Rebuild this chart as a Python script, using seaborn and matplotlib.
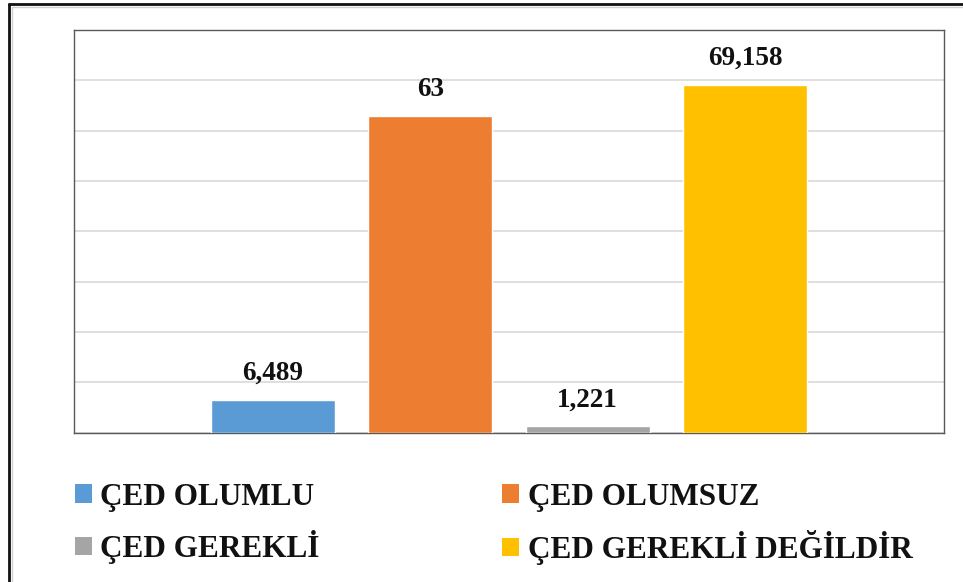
import matplotlib
matplotlib.use("Agg")
import matplotlib.pyplot as plt
from matplotlib.patches import Patch
from matplotlib.lines import Line2D
import seaborn as sns
import pandas as pd

# Share of applications by ÇED decision (%)
categories = ["ÇED OLUMLU", "ÇED OLUMSUZ", "ÇED GEREKLİ", "ÇED GEREKLİ DEĞİLDİR"]
values = [6.489, 63, 1.221, 69.158]
colors = ["#5B9BD5", "#ED7D31", "#A5A5A5", "#FFC000"]
y_max = 80
y_step = 10

sns.set_theme(style="white")
plt.rcParams["font.family"] = ["Liberation Serif", "DejaVu Serif"]
plt.rcParams["text.color"] = "#111111"

df = pd.DataFrame({"karar": categories, "oran": values})

fig = plt.figure(figsize=(9.63, 5.82), dpi=100)
W, H = 963, 582
ax = fig.add_axes([74 / W, (H - 432.5) / H, (943.5 - 74) / W, (432.5 - 30) / H])

sns.barplot(data=df, x="karar", y="oran", hue="karar", palette=colors,
            width=0.787, legend=False, ax=ax, saturation=1, zorder=3)

ax.set_xlim(-1.263, 4.261)
ax.set_ylim(0, y_max)
ax.set_yticks(range(0, y_max + 1, y_step))
ax.yaxis.grid(True, color="#D9D9D9", linewidth=1.2, zorder=0)
ax.set_axisbelow(True)
ax.set_xticks([])
ax.set_yticklabels([])
ax.tick_params(left=False, bottom=False)
ax.set_xlabel("")
ax.set_ylabel("")
for s in ax.spines.values():
    s.set_visible(True)
    s.set_color("#595959")
    s.set_linewidth(1.0)


def fmt(v):
    s = f"{v:.3f}".rstrip("0").rstrip(".")
    return s.replace(".", ",")


for cont in ax.containers:
    ax.bar_label(cont, labels=[fmt(b.get_height()) for b in cont],
                 padding=10, fontsize=19.5, fontweight="bold", color="#111111")

# legend: two columns, filled row by row
order = [0, 2, 1, 3]
handles = [Patch(facecolor=colors[i], edgecolor="none") for i in order]
labels = [categories[i] for i in order]
leg = fig.legend(handles, labels, ncol=2, loc="upper left",
                 bbox_to_anchor=(59 / W, 1 - 467 / H), frameon=False,
                 prop={"family": "Liberation Serif", "weight": "bold", "size": 22.5},
                 handlelength=0.55, handleheight=0.55, handletextpad=0.27,
                 columnspacing=5.84, labelspacing=0.59, borderpad=0,
                 borderaxespad=0.5, labelcolor="#111111")

# frame around the figure (top and left edges)
fig.add_artist(Line2D([9 / W, 9 / W], [0, 1 - 4 / H], transform=fig.transFigure,
                      color="#111111", linewidth=2.0))
fig.add_artist(Line2D([9 / W, 1], [1 - 4 / H, 1 - 4 / H], transform=fig.transFigure,
                      color="#111111", linewidth=2.0))
fig.add_artist(Line2D([11.5 / W, 11.5 / W], [0, 1 - 6.5 / H], transform=fig.transFigure,
                      color="#D0D0D0", linewidth=1.0))
fig.add_artist(Line2D([11.5 / W, 1], [1 - 6.5 / H, 1 - 6.5 / H], transform=fig.transFigure,
                      color="#D0D0D0", linewidth=1.0))

fig.savefig("out.png", dpi=100, facecolor="white")
